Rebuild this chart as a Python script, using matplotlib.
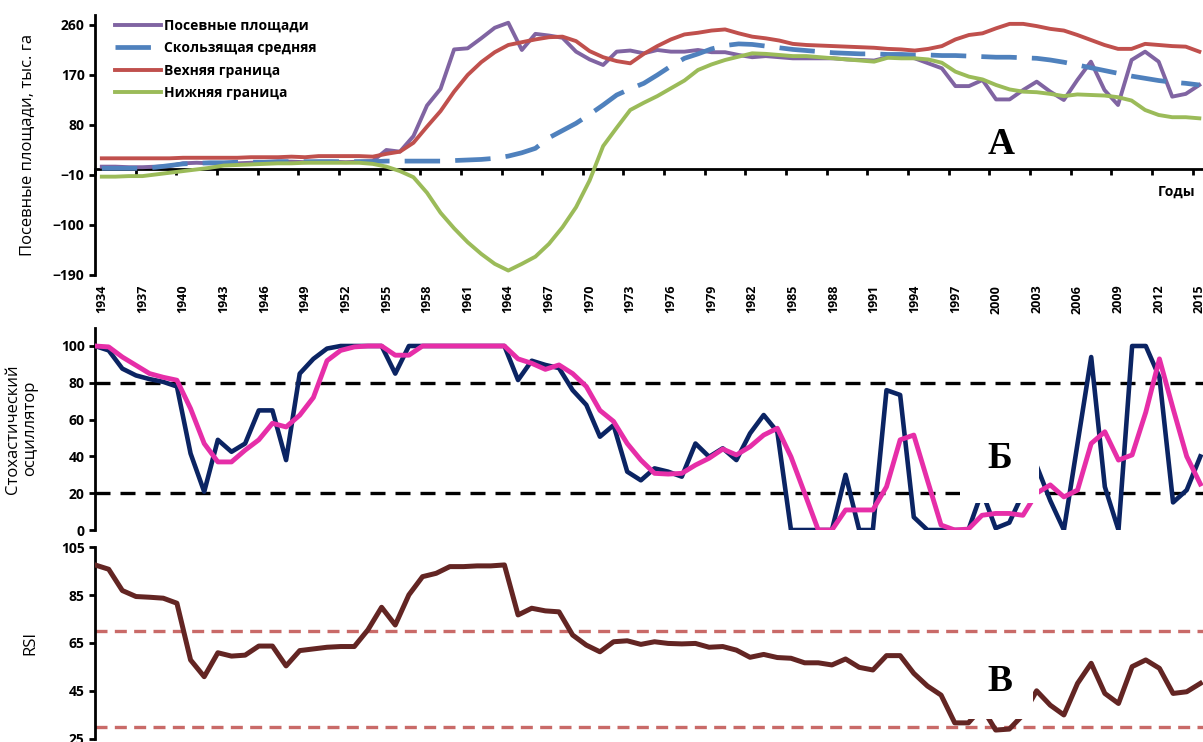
# -*- coding: utf-8 -*-
# Посевные площади: полосы Боллинджера, стохастический осциллятор и RSI (1934-2015)
import numpy as np
import matplotlib
matplotlib.use("Agg")
import matplotlib.pyplot as plt

plt.rcParams.update({
    "font.family": ["Open Sans", "DejaVu Sans"],
    "axes.linewidth": 2.0,
})

# -------------------------- data --------------------------
years = np.arange(1934, 2016)
year_labels = years[::3]

area = [5, 5, 4, 4, 5, 6, 11, 12, 11, 10, 11, 12, 13, 14, 14, 13, 14, 14, 13, 14,
        15, 35, 32, 60, 115, 145, 216, 218, 236, 255, 264, 215, 244, 241, 237, 212,
        198, 188, 212, 214, 209, 215, 212, 212, 215, 211, 211, 206, 202, 204, 202, 200,
        200, 200, 200, 198, 197, 196, 202, 204, 200, 191, 182, 150, 150, 161, 126, 126,
        143, 158, 140, 125, 161, 194, 143, 116, 197, 212, 194, 131, 136, 152]
moving_avg = [2, 2, 2, 2, 4, 7, 10, 11, 12, 12, 13, 13, 13, 14, 14, 14, 14, 14, 14, 14,
              14, 15, 15, 15, 15, 15, 16, 17, 18, 20, 24, 30, 38, 57, 70, 83,
              99, 116, 134, 145, 155, 170, 186, 200, 208, 217, 223, 226, 225, 222, 219, 216,
              214, 212, 210, 209, 208, 208, 207, 207, 206, 206, 205, 205, 204, 203, 202, 202,
              201, 200, 197, 193, 188, 183, 178, 173, 168, 164, 160, 157, 155, 152]
upper = [20, 20, 20, 20, 20, 20, 21, 21, 21, 21, 21, 22, 22, 22, 23, 22, 24, 24, 24, 24,
         23, 28, 32, 48, 77, 105, 140, 170, 193, 211, 224, 229, 234, 238, 239, 231,
         213, 202, 195, 191, 208, 222, 234, 243, 246, 250, 252, 245, 239, 236, 232, 226,
         224, 223, 222, 221, 220, 219, 217, 216, 214, 217, 222, 234, 242, 245, 254, 262,
         262, 258, 253, 250, 242, 233, 224, 217, 217, 226, 224, 222, 221, 212]
lower = [-13, -13, -12, -12, -9, -6, -3, 0, 3, 7, 8, 9, 10, 11, 11, 12, 12, 12, 12, 12,
         10, 5, -3, -14, -42, -78, -106, -131, -152, -170, -182, -170, -157, -134, -104, -68,
         -20, 42, 75, 107, 120, 132, 146, 160, 179, 189, 197, 203, 209, 208, 206, 204,
         204, 202, 200, 198, 196, 194, 201, 200, 200, 198, 192, 176, 167, 162, 152, 144,
         140, 139, 136, 132, 135, 134, 133, 130, 124, 107, 98, 94, 94, 92]

stoch_k = [100, 97.6, 87.7, 84, 82, 80.5, 78, 41.6, 20.8, 49, 42.5, 47, 65, 65, 38, 85,
           93, 98.6, 100, 100, 100, 100, 85, 100, 100, 100, 100, 100, 100, 100, 100, 81.5,
           92, 89.7, 88, 76, 68, 50.7, 57, 31.7, 27, 33.5, 31.7, 29, 47, 39.8, 44.4, 38,
           52.5, 62.5, 53.4, 0, 0, 0, 0, 30, 0, 0, 76, 73.4, 7, 0, 0, 0, 0, 21,
           1, 4, 20, 35, 16, 0, 47, 94, 23.5, 0, 100, 100, 83, 15, 21.7, 40]
stoch_d = [100, 99.5, 94, 89.5, 85, 83, 81.4, 66, 47, 37, 37, 43.4, 49, 58, 56, 62.4,
           72, 92, 97.6, 99.5, 100, 100, 95, 95, 100, 100, 100, 100, 100, 100, 100, 93,
           90.6, 87.3, 89.7, 85, 78, 65, 59, 47, 38, 30.8, 30.4, 30.8, 35.3, 39, 44, 40.8,
           45.3, 51.6, 55.3, 39.8, 20, 0, 0, 10.9, 10.9, 10.9, 23.5, 49, 51.6, 27, 2.7, 0, 0.5, 8,
           9, 9, 8, 20, 24.5, 18, 21.7, 47, 53.4, 38, 40.8, 64, 93, 66, 40, 25]

rsi = [97.6, 95.8, 86.9, 84.4, 84.1, 83.7, 81.6, 57.9, 50.9, 60.9, 59.5, 59.9, 63.7, 63.7,
       55.4, 61.8, 62.5, 63.2, 63.5, 63.5, 70.5, 79.9, 72.5, 85.1, 92.7, 94.1, 96.9, 96.9,
       97.2, 97.2, 97.6, 76.7, 79.5, 78.4, 78, 68.3, 64.1, 61.3, 65.5, 65.9, 64.4, 65.5,
       64.8, 64.6, 64.8, 63.2, 63.5, 62, 59, 60.2, 58.9, 58.6, 56.7, 56.7, 55.8, 58.3,
       54.8, 53.7, 59.7, 59.7, 52.3, 47, 43.2, 31.6, 31.6, 38, 28.6, 29, 34.9, 45,
       39, 34.9, 48.1, 56.5, 43.9, 39.7, 55.1, 57.9, 54.4, 43.9, 44.6, 48.1]

stoch_levels = [80, 20]
rsi_levels = [70, 30]

# -------------------------- figure --------------------------
fig = plt.figure(figsize=(12.03, 7.42), dpi=100)
L, W = 0.079, 0.923
axA = fig.add_axes([L, 0.6294, W, 0.3504])
axB = fig.add_axes([L, 0.2857, W, 0.2728])
axC = fig.add_axes([L, 0.0045, W, 0.2580])

letter_font = dict(family=["Liberation Serif", "DejaVu Serif"], fontsize=27,
                   fontweight="bold", ha="center", va="center", zorder=10)

# ---- A: sown area with bands ----
axA.plot(years, area, color="#8064A2", lw=2.8, label="Посевные площади", zorder=3)
axA.plot(years, moving_avg, color="#4F81BD", lw=3.4, dashes=(7.5, 3.2),
         label="Скользящая средняя", zorder=4)
axA.plot(years, upper, color="#C0504D", lw=2.8, label="Вехняя граница", zorder=5)
axA.plot(years, lower, color="#9BBB59", lw=2.8, label="Нижняя граница", zorder=6)

axA.set_xlim(1933.5, 2015.45)
axA.set_ylim(-190, 278)
axA.set_yticks(np.arange(-190, 261, 90))
axA.spines[["top", "right"]].set_visible(False)
axA.spines["bottom"].set_position(("data", 0))
axA.set_xticks(year_labels - 0.5)
axA.set_xticklabels([])
axA.tick_params(axis="x", direction="out", length=4, width=2)
axA.tick_params(axis="y", direction="out", length=4, width=2)
for t in axA.get_yticklabels():
    t.set_fontweight("bold"); t.set_fontsize(10)

sec = axA.secondary_xaxis("bottom")
sec.set_xticks(year_labels)
sec.set_xticklabels([str(y) for y in year_labels], rotation=90, fontsize=9, fontweight="bold")
sec.tick_params(length=0, pad=7)
sec.spines["bottom"].set_visible(False)

axA.set_ylabel("Посевные площади, тыс. га", fontsize=12)
axA.yaxis.set_label_coords(-0.054, 0.5)
axA.text(2013.3, -40, "Годы", fontsize=10, fontweight="bold", ha="center", va="center")
axA.text(2000.4, 44, "А", **letter_font)

leg = axA.legend(loc="upper left", bbox_to_anchor=(0.018, 0.985), frameon=False,
                 borderpad=0, borderaxespad=0, handlelength=3.3, handletextpad=0.25,
                 labelspacing=0.6, prop=dict(size=10, weight="bold"))

# ---- Б: stochastic oscillator ----
for lv in stoch_levels:
    axB.axhline(lv, color="black", lw=2.4, dashes=(4.5, 3), zorder=1)
axB.plot(years, stoch_k, color="#0B2463", lw=3.3, zorder=3)
axB.plot(years, stoch_d, color="#E62EA8", lw=3.5, zorder=4)
axB.set_xlim(1934, 2015.37)
axB.set_ylim(0, 110)
axB.set_yticks(np.arange(0, 101, 20))
axB.spines[["top", "right", "bottom"]].set_visible(False)
axB.set_xticks([])
axB.tick_params(axis="y", direction="out", length=4, width=2)
for t in axB.get_yticklabels():
    t.set_fontweight("bold"); t.set_fontsize(10)
axB.set_ylabel("Стохастический\nосциллятор", fontsize=12, linespacing=1.1)
axB.yaxis.set_label_coords(-0.051, 0.5)
axB.text(2000.3, 39, "Б", bbox=dict(facecolor="white", edgecolor="none",
                                     boxstyle="square,pad=0.72"), **letter_font)

# ---- В: RSI ----
for lv in rsi_levels:
    axC.axhline(lv, color="#C0504D", alpha=0.85, lw=2.4, dashes=(3.6, 2.2), zorder=1)
axC.plot(years, rsi, color="#632523", lw=3.6, zorder=3)
axC.set_xlim(1934, 2015.37)
axC.set_ylim(25, 105)
axC.set_yticks(np.arange(25, 106, 20))
axC.spines[["top", "right", "bottom"]].set_visible(False)
axC.set_xticks([])
axC.tick_params(axis="y", direction="out", length=4, width=2)
for t in axC.get_yticklabels():
    t.set_fontweight("bold"); t.set_fontsize(10)
axC.set_ylabel("RSI", fontsize=12)
axC.yaxis.set_label_coords(-0.051, 0.5)
axC.text(2000.3, 49, "В", bbox=dict(facecolor="white", edgecolor="none",
                                     boxstyle="square,pad=0.55"), **letter_font)

fig.savefig("out.png", dpi=100)
